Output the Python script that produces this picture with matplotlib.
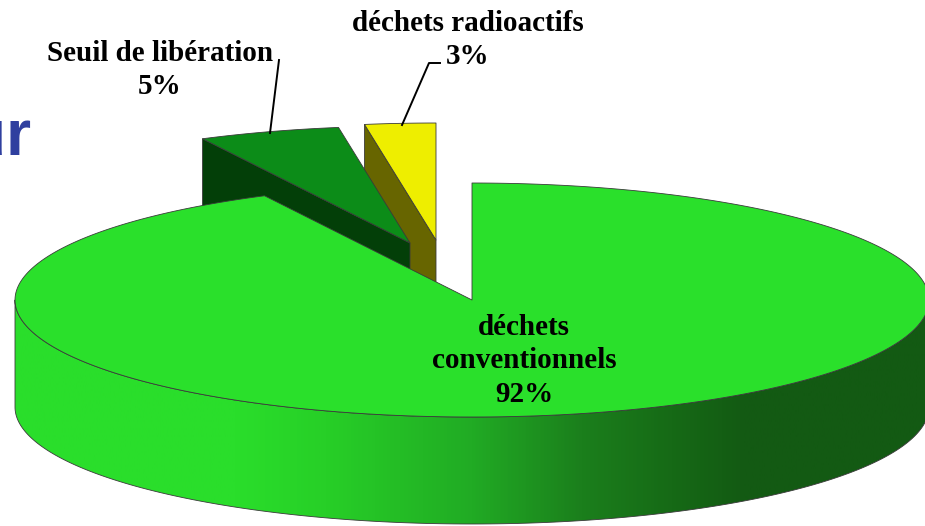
import numpy as np
import matplotlib
matplotlib.use('Agg')
import matplotlib.pyplot as plt
from matplotlib.colors import LinearSegmentedColormap
from matplotlib.patches import Polygon

# shares, drawn clockwise from 12 o'clock
shares = [92.5, 5.0, 2.5]
names = ['déchets\nconventionnels\n92%', 'Seuil de libération\n5%', 'déchets radioactifs\n3%']
top_colors = ['#2ae02b', '#0c8c18', '#eeee00']
side_colors = [None, '#033f08', '#676500']

# projected pie, in pixels of the picture
cx, cy = 472, 300
rx, ry = 457, 117
depth = 107
offsets = [(0, 0), (-62, -57), (-36, -60)]

wall_stops = [0.0, 0.24, 0.34, 0.50, 0.62, 0.72, 0.80, 1.0]
wall_cols = ['#2ade2b', '#2ade2b', '#27cf27', '#21ab24', '#1b7f1c', '#166a16', '#135a13', '#135a13']

fig = plt.figure(figsize=(9.25, 5.26), dpi=100)
ax = fig.add_axes([0, 0, 1, 1])
ax.set_xlim(0, 925)
ax.set_ylim(526, 0)
ax.axis('off')


def pt(theta, ox=0, oy=0):
    t = np.radians(theta)
    return cx + ox + rx * np.sin(t), cy + oy - ry * np.cos(t)


edges = np.concatenate([[0], np.cumsum(shares)]) * 3.6
edge_kw = dict(edgecolor='#3a3a3a', linewidth=0.6, joinstyle='round')

# loose slices go first, the big one hides their lower part
for i in [2, 1]:
    ox, oy = offsets[i]
    a, b = edges[i], edges[i + 1]
    sx, sy = pt(a, ox, oy)
    apex = (cx + ox, cy + oy)
    side = [(sx, sy), apex, (apex[0], apex[1] + depth), (sx, sy + depth)]
    ax.add_patch(Polygon(side, facecolor=side_colors[i], zorder=2 + (2 - i) * 2, **edge_kw))
    th = np.linspace(a, b, 40)
    xs, ys = pt(th, ox, oy)
    top = [apex] + list(zip(xs, ys))
    ax.add_patch(Polygon(top, facecolor=top_colors[i], zorder=3 + (2 - i) * 2, **edge_kw))

# wall of the big slice with its left to right shading
th = np.linspace(90, 270, 200)
xs, ys = pt(th)
wall = list(zip(xs, ys)) + list(zip(xs[::-1], ys[::-1] + depth))
wall_patch = Polygon(wall, facecolor='none', zorder=8, **edge_kw)
ax.add_patch(wall_patch)
cmap = LinearSegmentedColormap.from_list('wall', list(zip(wall_stops, wall_cols)))
grad = np.linspace(0, 1, 512).reshape(1, -1)
im = ax.imshow(grad, cmap=cmap, extent=[cx - rx, cx + rx, 526, 0], aspect='auto', zorder=7)
im.set_clip_path(wall_patch)
ax.set_xlim(0, 925)
ax.set_ylim(526, 0)

# top of the big slice
th = np.linspace(edges[0], edges[1], 400)
xs, ys = pt(th)
top = [(cx, cy)] + list(zip(xs, ys))
ax.add_patch(Polygon(top, facecolor=top_colors[0], zorder=9, **edge_kw))

# leader lines
ax.plot([279, 270], [60, 133], color='black', lw=1.4, zorder=10)
ax.plot([440, 429, 402], [63, 63, 125], color='black', lw=1.4, zorder=10)

lab = dict(family='Liberation Serif', fontweight='bold', fontsize=21, ha='center',
           va='center', color='black', linespacing=1.32, zorder=11)
ax.text(524, 361, names[0], **lab)
ax.text(160, 70, names[1], **lab)
ax.text(468, 40, names[2], **lab)

# end of a cut off title word on the slide behind the chart
ax.text(31, 155, 'ur', family='Liberation Sans', fontweight='bold', fontsize=46,
        color='#2f3f9f', ha='right', va='baseline', zorder=1)

fig.savefig('out.png', dpi=100)
